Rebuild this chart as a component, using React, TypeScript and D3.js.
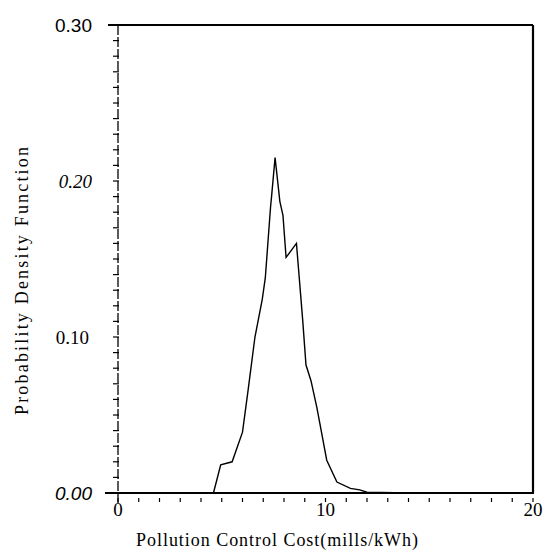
import React from "react";
import * as d3 from "d3";

const costX = [4.6, 4.95, 5.5, 6.0, 6.27, 6.6, 6.95, 7.1, 7.35, 7.4, 7.57, 7.8, 7.95, 8.1, 8.6, 8.9, 9.06, 9.3, 9.58, 10.06, 10.55, 11.2, 11.65, 12.0, 14.0, 20.0];
const pdfY = [0.0, 0.018, 0.020, 0.039, 0.066, 0.10, 0.124, 0.138, 0.183, 0.19, 0.215, 0.187, 0.178, 0.151, 0.160, 0.111, 0.082, 0.072, 0.055, 0.021, 0.007, 0.003, 0.002, 0.0005, 0.0, 0.0];
const yTicks = [0.3, 0.2, 0.1, 0.0];
const yTickLabels = ["0.30", "0.20", "0.10", "0.00"];
const xTicks = [0, 10, 20];

export default function App() {
  const W = 545, H = 554;
  const x = d3.scaleLinear().domain([0, 20]).range([118, 533]);
  const y = d3.scaleLinear().domain([0, 0.3]).range([493, 25]);
  const line = d3.line<number>().x((_, i) => x(costX[i])).y((d) => y(d));
  const minorY = d3.range(0, 31).map((i) => i / 100);
  const minorX = d3.range(0, 21);
  const labelFont = "'Liberation Serif', serif";
  return (
    <svg width={W} height={H} style={{ position: "absolute", left: 0, top: 0 }}>
      <rect width={W} height={H} fill="#fff" />
      {/* frame */}
      <line x1={108} x2={533} y1={y(0.3)} y2={y(0.3)} stroke="#000" strokeWidth={2} />
      <line x1={533} x2={533} y1={y(0.3)} y2={y(0)} stroke="#000" strokeWidth={2.2} />
      <line x1={105} x2={534} y1={y(0)} y2={y(0)} stroke="#000" strokeWidth={2.2} />
      <line x1={118} x2={118} y1={y(0.3)} y2={y(0) + 12} stroke="#000" strokeWidth={1.3} strokeDasharray="10,2" />
      {minorY.map((v) => (
        <line key={"my" + v} x1={113} x2={119} y1={y(v)} y2={y(v)} stroke="#000" strokeWidth={1.2} />
      ))}
      {minorX.map((v) => (
        <line key={"mx" + v} x1={x(v)} x2={x(v)} y1={y(0) + 5} y2={y(0) + 9} stroke="#000" strokeWidth={1.2} />
      ))}
      <path d={line(pdfY) || ""} fill="none" stroke="#000" strokeWidth={1.4} />
      {yTicks.map((v, i) => (
        <text
          key={"yt" + v}
          x={i === 2 ? 89 : 92}
          y={y(v)}
          dy="0.36em"
          textAnchor="end"
          fontSize={19}
          fontFamily={i === 0 || i === 3 ? "'Liberation Sans', sans-serif" : labelFont}
          fontStyle={i === 1 || i === 3 ? "italic" : "normal"}
        >
          {yTickLabels[i]}
        </text>
      ))}
      {xTicks.map((v) => (
        <text key={"xt" + v} x={x(v)} y={516} textAnchor="middle" fontSize={19} fontFamily={labelFont}>
          {v}
        </text>
      ))}
      <text x={277} y={546} textAnchor="middle" fontSize={18} fontFamily={labelFont} textLength={282} lengthAdjust="spacing">
        Pollution Control Cost(mills/kWh)
      </text>
      <text
        transform="translate(28,281) rotate(-90)"
        textAnchor="middle"
        fontSize={18}
        fontFamily={labelFont}
        textLength={268}
        lengthAdjust="spacing"
      >
        Probability Density Function
      </text>
    </svg>
  );
}
